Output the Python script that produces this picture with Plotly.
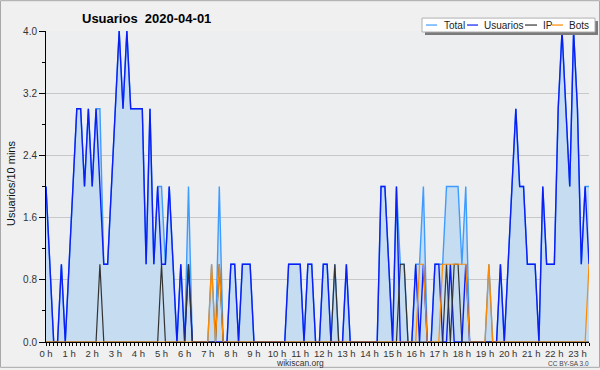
import plotly.graph_objects as go

# ---- data (10-minute slots, 00:00 .. 23:30) ----
usuarios = [2,1,0,0,1,0, 1,2,3,3,2,3, 2,3,2,1,1,2, 3,4,3,4,3,3,
            3,3,1,3,1,2, 1,1,2,1,0,1, 0,1,0,0,0,0, 0,0,0,0,0,0,
            1,1,0,1,1,1, 0,0,0,0,0,0, 0,0,0,1,1,1, 1,0,1,1,0,0,
            1,1,0,0,0,0, 1,0,0,0,0,0, 0,0,0,2,2,1, 0,2,0,0,0,0,
            1,0,1,0,0,1, 1,0,0,1,0,0, 0,1,0,0,0,0, 0,0,0,0,1,0,
            1,2,3,2,2,1, 1,1,0,2,1,1, 1,3,4,3,2,4, 3,1,2,1]
ip =       [0,0,0,0,0,0, 0,0,0,0,0,0, 0,0,1,0,0,0, 0,0,0,0,0,0,
            0,0,0,0,0,0, 1,0,0,0,0,0, 0,1,0,0,0,0, 0,0,0,1,0,0,
            0,0,0,0,0,0, 0,0,0,0,0,0, 0,0,0,0,0,0, 0,0,0,0,0,0,
            0,0,0,1,0,0, 0,0,0,0,0,0, 0,0,0,0,0,0, 0,0,1,1,0,0,
            0,0,0,0,0,0, 0,0,1,0,1,1, 0,0,0,0,0,0, 0,0,0,0,0,0,
            0,0,0,0,0,0, 0,0,0,0,0,0, 0,0,0,0,0,0, 0,0,0,0]
bots =     [0,0,0,0,0,0, 0,0,0,0,0,0, 0,0,0,0,0,0, 0,0,0,0,0,0,
            0,0,0,0,0,0, 0,0,0,0,0,0, 0,0,0,0,0,0, 0,1,0,1,0,0,
            0,0,0,0,0,0, 0,0,0,0,0,0, 0,0,0,0,0,0, 0,0,0,0,0,0,
            0,0,0,0,0,0, 0,0,0,0,0,0, 0,0,0,0,0,0, 0,0,0,0,0,0,
            0,1,1,0,0,0, 0,1,1,1,1,1, 1,1,0,0,0,0, 0,1,0,0,0,0,
            0,0,0,0,0,0, 0,0,0,0,0,0, 0,0,0,0,0,0, 0,0,0,1]
total =    [2,1,0,0,1,0, 1,2,3,3,2,3, 2,3,3,1,1,2, 3,4,3,4,3,3,
            3,3,1,3,1,2, 2,1,2,1,0,1, 0,2,0,0,0,0, 0,1,0,2,0,0,
            1,1,0,1,1,1, 0,0,0,0,0,0, 0,0,0,1,1,1, 1,0,1,1,0,0,
            1,1,0,1,0,0, 1,0,0,0,0,0, 0,0,0,2,2,1, 0,2,1,1,0,0,
            1,1,2,0,0,1, 1,1,2,2,2,2, 1,2,0,0,0,0, 0,1,0,0,1,0,
            1,2,3,2,2,1, 1,1,0,2,1,1, 1,3,4,3,2,4, 3,1,2,2]

hours = list(range(24))
hour_labels = [f"{h} h" for h in hours]
y_ticks = [0.0, 0.8, 1.6, 2.4, 3.2, 4.0]
y_labels = ["0.0", "0.8", "1.6", "2.4", "3.2", "4.0"]
series_names = ["Total", "Usuarios", "IP", "Bots"]
colors = ["#3f9cff", "#0b1ef5", "#333333", "#ff8a00"]

slots = [i / 6 for i in range(len(total))]  # time in hours

FONT = "Liberation Sans, Arial, sans-serif"

# pixel -> paper helpers (plot area 46..589 x 31..344)
L, R, T, B = 46, 589, 31, 344
def px(x):
    return (x - L) / (R - L)
def py(y):
    return (B - y) / (B - T)

fig = go.Figure()
fig.add_trace(go.Scatter(x=slots, y=total, name=series_names[0], mode="lines",
                         line=dict(color=colors[0], width=1.4),
                         fill="tozeroy", fillcolor="#c6dcf0"))
fig.add_trace(go.Scatter(x=slots, y=usuarios, name=series_names[1], mode="lines",
                         line=dict(color=colors[1], width=1.4)))
fig.add_trace(go.Scatter(x=slots, y=ip, name=series_names[2], mode="lines",
                         line=dict(color=colors[2], width=1.2)))
fig.add_trace(go.Scatter(x=slots, y=bots, name=series_names[3], mode="lines",
                         line=dict(color=colors[3], width=1.2)))

shapes = []
annotations = []

# outer frame
shapes.append(dict(type="rect", xref="paper", yref="paper",
                   x0=px(0.5), x1=px(599.5), y0=py(369.5), y1=py(0.5),
                   line=dict(color="#a8a8a8", width=1), layer="above"))

# legend (shadow + box + samples + labels)
shapes.append(dict(type="rect", xref="paper", yref="paper",
                   x0=px(425), x1=px(598), y0=py(35), y1=py(21),
                   fillcolor="#7a7a7a", line=dict(width=0), layer="above"))
shapes.append(dict(type="rect", xref="paper", yref="paper",
                   x0=px(422), x1=px(595), y0=py(32), y1=py(18),
                   fillcolor="white", line=dict(color="#b0b0b0", width=1), layer="above"))
sample_x = [(426, 437), (467, 478), (525, 537), (552, 563)]
label_x = [442, 482, 541, 567]
for name, col, (a, b), lx in zip(series_names, colors, sample_x, label_x):
    shapes.append(dict(type="line", xref="paper", yref="paper",
                       x0=px(a), x1=px(b), y0=py(25), y1=py(25),
                       line=dict(color=col, width=1.2), layer="above"))
    annotations.append(dict(text=name, xref="paper", yref="paper",
                            x=px(lx), y=py(25), xanchor="left", yanchor="middle",
                            showarrow=False, font=dict(family=FONT, size=10, color="#222")))

# y axis title
annotations.append(dict(text="Usuarios/10 mins", xref="paper", yref="paper",
                        x=px(11), y=py(185), textangle=-90, xanchor="center", yanchor="middle",
                        showarrow=False, font=dict(family=FONT, size=11, color="#111")))
# footer
annotations.append(dict(text="wikiscan.org", xref="paper", yref="paper",
                        x=px(300), y=py(365), xanchor="center", yanchor="middle",
                        showarrow=False, font=dict(family=FONT, size=8.5, color="#333")))
annotations.append(dict(text="CC BY-SA 3.0", xref="paper", yref="paper",
                        x=px(591), y=py(365.5), xanchor="right", yanchor="middle",
                        showarrow=False, font=dict(family=FONT, size=6.5, color="#444")))

fig.update_layout(
    width=600, height=370, autosize=False,
    margin=dict(l=L, r=600 - R, t=T, b=370 - B, pad=0),
    paper_bgcolor="#f0f0f0", plot_bgcolor="#edeef0",
    showlegend=False,
    title=dict(text="<b>Usuarios \u00a02020-04-01</b>", xref="container", yref="container",
               x=82 / 600, xanchor="left", y=1 - 18 / 370, yanchor="middle",
               font=dict(family=FONT, size=13, color="#000")),
    shapes=shapes, annotations=annotations,
    hovermode=False,
)
fig.update_xaxes(range=[0, slots[-1]], tickmode="array", tickvals=hours, ticktext=hour_labels,
                 ticks="outside", ticklen=3, tickcolor="#000", tickwidth=1,
                 showline=True, linecolor="#000", linewidth=1, showgrid=False, zeroline=False,
                 tickfont=dict(family=FONT, size=9.5, color="#333"),
                 minor=dict(tick0=0, dtick=1 / 6, ticks="outside", ticklen=3, tickcolor="#000",
                            tickwidth=1, showgrid=False),
                 fixedrange=True)
fig.update_yaxes(range=[0, 4], tickmode="array", tickvals=y_ticks, ticktext=y_labels,
                 ticks="outside", ticklen=6, tickcolor="#000", tickwidth=1,
                 showline=True, linecolor="#000", linewidth=1,
                 showgrid=True, gridcolor="#c8c8c8", gridwidth=1, zeroline=False,
                 tickfont=dict(family=FONT, size=10, color="#333"),
                 minor=dict(tick0=0, dtick=0.4, ticks="outside", ticklen=3, tickcolor="#000",
                            tickwidth=1, showgrid=False),
                 fixedrange=True)

fig.write_html("out.html", config={"displayModeBar": False},
               post_script="document.body.style.margin='0';document.body.style.overflow='hidden';")
